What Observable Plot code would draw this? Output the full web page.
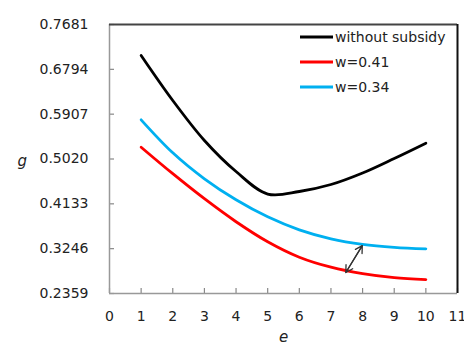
<!DOCTYPE html>
<html>
<head>
<meta charset="utf-8">
<script src="https://cdn.jsdelivr.net/npm/d3@7"></script>
<script src="https://cdn.jsdelivr.net/npm/@observablehq/plot@0.6"></script>
<style>
  html, body { margin: 0; padding: 0; background: #fff; }
  #chart svg { display: block; }
</style>
</head>
<body>
<div id="chart"></div>
<script>
const e = [1, 2, 3, 4, 5, 6, 7, 8, 9, 10];
const withoutSubsidy = [0.7068, 0.6177, 0.5386, 0.4772, 0.4327, 0.4377, 0.4515, 0.4743, 0.5030, 0.5333];
const w041 = [0.5253, 0.4729, 0.4234, 0.3779, 0.3383, 0.3077, 0.2879, 0.2750, 0.2671, 0.2635];
const w034 = [0.5795, 0.5142, 0.4628, 0.4213, 0.3876, 0.3619, 0.3441, 0.3332, 0.3273, 0.3243];
const seriesNames = ["without subsidy", "w=0.41", "w=0.34"];
const seriesColors = ["#000000", "#ff0000", "#00b0f0"];
const xTicks = [0, 1, 2, 3, 4, 5, 6, 7, 8, 9, 10, 11];
const yTicks = [0.2359, 0.3246, 0.4133, 0.5020, 0.5907, 0.6794, 0.7681];
const arrowPts = [{x1: 7.47, y1: 0.2775, x2: 7.99, y2: 0.3305}];

const seriesValues = [withoutSubsidy, w041, w034];
const data = seriesNames.flatMap((name, i) =>
  e.map((x, j) => ({series: name, e: x, g: seriesValues[i][j]})));

const W = 464, H = 342;
const mL = 109, mR = 7, mT = 24, mB = 49;
const plotW = W - mL - mR, plotH = H - mT - mB;

const legend = () => {
  const g = d3.create("svg:g");
  seriesNames.forEach((name, i) => {
    const y = 37 + i * 25;
    g.append("line").attr("x1", 300).attr("x2", 333).attr("y1", y).attr("y2", y)
      .attr("stroke", seriesColors[i]).attr("stroke-width", 3);
    g.append("text").attr("x", 335).attr("y", y).attr("dy", "0.35em")
      .attr("text-anchor", "start")
      .attr("fill", "#222").attr("font-size", 14).text(name);
  });
  return g.node();
};

const chart = Plot.plot({
  width: W, height: H,
  marginLeft: mL, marginRight: mR, marginTop: mT, marginBottom: mB,
  style: {fontFamily: "DejaVu Sans", fontSize: "14px", color: "#222", background: "#fff"},
  x: {domain: [xTicks[0], xTicks[xTicks.length - 1]]},
  y: {domain: [yTicks[0], yTicks[yTicks.length - 1]]},
  color: {domain: seriesNames, range: seriesColors},
  marks: [
    Plot.axisX({ticks: xTicks, tickSize: 0, tickPadding: 18, label: null, tickFormat: d3.format("d")}),
    Plot.axisY({ticks: yTicks, tickSize: 0, tickPadding: 21, label: null, tickFormat: d3.format(".4f")}),
    Plot.tickY(yTicks, {y: d => d, stroke: "#888", strokeWidth: 1.2, insetRight: plotW - 5}),
    Plot.tickX(xTicks, {x: d => d, stroke: "#888", strokeWidth: 1.2, insetTop: plotH - 5}),
    Plot.ruleX([xTicks[0]], {stroke: "#999", strokeWidth: 1.5}),
    Plot.ruleY([yTicks[0]], {stroke: "#999", strokeWidth: 1.5}),
    Plot.ruleY([yTicks[yTicks.length - 1]], {stroke: "#444", strokeWidth: 2}),
    Plot.ruleX([xTicks[xTicks.length - 1]], {stroke: "#111", strokeWidth: 2}),
    Plot.line(data, {x: "e", y: "g", z: "series", stroke: "series", strokeWidth: 2.8, curve: "catmull-rom"}),
    Plot.arrow(arrowPts, {x1: "x1", y1: "y1", x2: "x2", y2: "y2", stroke: "#333", strokeWidth: 1.3, headLength: 9, headAngle: 60}),
    Plot.arrow(arrowPts, {x1: "x2", y1: "y2", x2: "x1", y2: "y1", stroke: "#333", strokeWidth: 1.3, headLength: 9, headAngle: 60}),
    Plot.text(["g"], {frameAnchor: "left", dx: -92, dy: 2, fontStyle: "italic", fontSize: 15, fill: "#222"}),
    Plot.text(["e"], {frameAnchor: "bottom", dy: 48, fontStyle: "italic", fontSize: 15, fill: "#222"}),
    legend
  ]
});
document.getElementById("chart").appendChild(chart);
</script>
</body>
</html>
